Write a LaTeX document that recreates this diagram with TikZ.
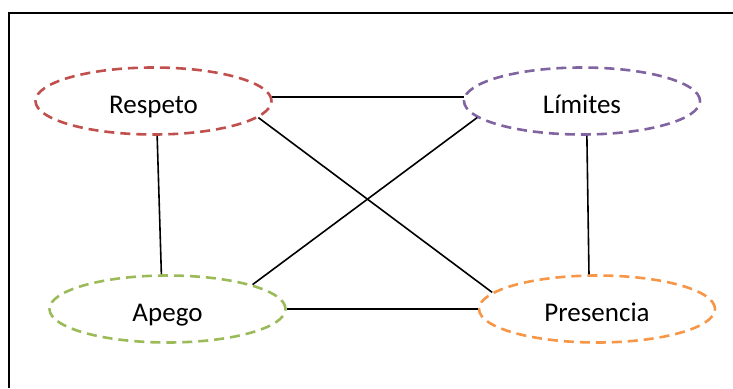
\documentclass[tikz,border=0pt]{standalone}
\usepackage{fontspec}
\setmainfont{Carlito}
\usepackage{xcolor}
\usetikzlibrary{shapes.geometric}
\definecolor{rojo}{HTML}{C0504D}
\definecolor{morado}{HTML}{8064A2}
\definecolor{verde}{HTML}{9BBB59}
\definecolor{naranja}{HTML}{F79646}
\tikzset{
	elipse/.style={ellipse,draw=#1,line width=2.6pt,dash pattern=on 10pt off 6pt,minimum width=236pt,minimum height=67pt,inner sep=0pt},
	etiqueta/.style={anchor=base,font=\fontsize{27}{30}\selectfont,yshift=-12pt},
	enlace/.style={line width=1.6pt}
}
\begin{document}
\begin{tikzpicture}[x=1pt,y=-1pt]
		\useasboundingbox (0,0) rectangle (733,388);
		\draw[line width=2pt](9,388)--(9,13)--(733,13);
		\node[elipse=rojo](resp) at (153.5,101){};
		\node[elipse=morado](lim) at (582,101){};
		\node[elipse=verde](apego) at (167.5,309){};
		\node[elipse=naranja](pres) at (597,309){};
		\node[etiqueta] at (resp.center){Respeto};
		\node[etiqueta] at (lim.center){Límites};
		\node[etiqueta] at (apego.center){Apego};
		\node[etiqueta] at (pres.center){Presencia};
		\draw[enlace](resp.2)--(lim.178);
		\draw[enlace](resp.-84)--(apego.100);
		\draw[enlace](lim.-82)--(pres.103);
		\draw[enlace](apego.east)--(pres.west);
		\draw[enlace](resp.-9)--(pres.171);
		\draw[enlace](lim.189)--(apego.16);
		\end{tikzpicture}
\end{document}
